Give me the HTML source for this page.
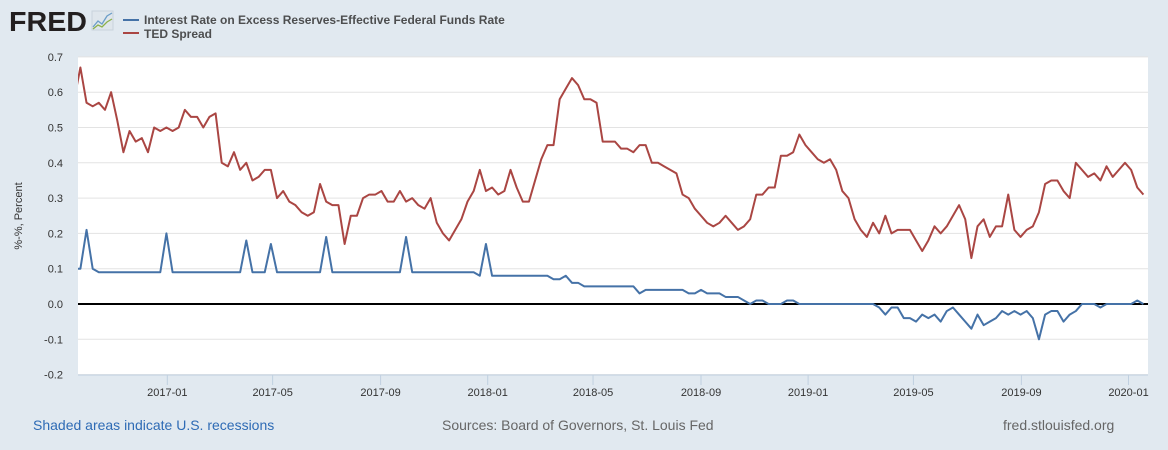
<!DOCTYPE html>
<html><head><meta charset="utf-8">
<style>
body{margin:0;background:#e1e9f0;font-family:"Liberation Sans",sans-serif;}
#wrap{position:relative;width:1168px;height:450px;overflow:hidden;background:#e1e9f0;}
</style></head>
<body>
<div id="wrap">
<svg id="chart" width="1168" height="450" xmlns="http://www.w3.org/2000/svg">
  <text x="9" y="31" font-family="Liberation Sans, sans-serif" font-weight="bold" font-size="28" fill="#231f20" textLength="78" lengthAdjust="spacingAndGlyphs">FRED</text>
  <g>
    <rect x="92" y="11" width="21" height="19" fill="#dfe6ec" stroke="#c9d3dc"/>
    <polyline points="93,27 98,21 102,24 107,16 112,13" fill="none" stroke="#6c9ec8" stroke-width="1.3"/>
    <polyline points="93,29 98,25 102,27 107,22 112,19" fill="none" stroke="#8cb04a" stroke-width="1.3"/>
  </g>
  <g>
    <g>
      <line x1="123" y1="20" x2="139" y2="20" stroke="#4572a7" stroke-width="2"/>
      <text x="144" y="24" font-size="12" fill="#333" font-weight="bold" fill-opacity="0.85">Interest Rate on Excess Reserves-Effective Federal Funds Rate</text>
    </g>
    <g>
      <line x1="123" y1="33" x2="139" y2="33" stroke="#aa4643" stroke-width="2"/>
      <text x="144" y="38" font-size="12" fill="#333" font-weight="bold" fill-opacity="0.85">TED Spread</text>
    </g>
  </g>
  <rect x="78" y="57" width="1070" height="318" fill="#ffffff"/>
  <g id="grid"></g>
  <g id="yticks"></g>
  <g id="xticks"></g>
  <text transform="translate(22,216) rotate(-90)" text-anchor="middle" font-size="11" fill="#333">%-%, Percent</text>
  <defs><clipPath id="clip"><rect x="78" y="57" width="1070" height="318"/></clipPath></defs>
  <g id="series" clip-path="url(#clip)"></g>
  <text x="33" y="430" font-size="14" fill="#2e6bb5">Shaded areas indicate U.S. recessions</text>
  <text x="442" y="430" font-size="14" fill="#666">Sources: Board of Governors, St. Louis Fed</text>
  <text x="1003" y="430" font-size="14" fill="#666">fred.stlouisfed.org</text>
</svg>
</div>
<script>
const startDate = "2016-09-17";
const redValues = [0.58,
0.67,0.57,0.56,0.57,0.55,0.60,0.52,0.43,0.49,0.46,0.47,0.43,0.50,0.49,0.50,0.49,0.50,0.55,0.53,0.53,0.50,0.53,0.54,0.40,0.39,0.43,0.38,0.40,0.35,0.36,0.38,0.38,0.30,0.32,0.29,0.28,0.26,0.25,0.26,0.34,0.29,0.28,0.28,0.17,0.25,0.25,0.30,0.31,0.31,0.32,0.29,0.29,0.32,0.29,0.30,0.28,0.27,0.30,0.23,0.20,0.18,
0.21,0.24,0.29,0.32,0.38,0.32,0.33,0.31,0.32,0.38,0.33,0.29,0.29,0.35,0.41,0.45,0.45,0.58,0.61,0.64,0.62,0.58,0.58,0.57,0.46,0.46,0.46,0.44,0.44,0.43,0.45,0.45,0.40,0.40,0.39,0.38,0.37,0.31,0.30,0.27,0.25,0.23,0.22,0.23,0.25,0.23,0.21,0.22,0.24,0.31,0.31,0.33,0.33,0.42,0.42,0.43,0.48,0.45,0.43,0.41,
0.40,0.41,0.38,0.32,0.30,0.24,0.21,0.19,0.23,0.20,0.25,0.20,0.21,0.21,0.21,0.18,0.15,0.18,0.22,0.20,0.22,0.25,0.28,0.24,0.13,0.22,0.24,0.19,0.22,0.22,0.31,0.21,0.19,0.21,0.22,0.26,0.34,0.35,0.35,0.32,0.30,0.40,0.38,0.36,0.37,0.35,0.39,0.36,0.38,0.40,0.38,0.33,0.31];
const blueValues = [0.10,
0.10,0.21,0.10,0.09,0.09,0.09,0.09,0.09,0.09,0.09,0.09,0.09,0.09,0.09,0.20,
0.09,0.09,0.09,0.09,0.09,0.09,0.09,0.09,0.09,0.09,0.09,0.09,0.18,0.09,0.09,0.09,0.17,
0.09,0.09,0.09,0.09,0.09,0.09,0.09,0.09,0.19,
0.09,0.09,0.09,0.09,0.09,0.09,0.09,0.09,0.09,0.09,0.09,0.09,0.19,
0.09,0.09,0.09,0.09,0.09,0.09,0.09,0.09,0.09,0.09,0.09,0.08,0.17,
0.08,0.08,0.08,0.08,0.08,0.08,0.08,0.08,0.08,0.08,0.07,0.07,0.08,0.06,0.06,
0.05,0.05,0.05,0.05,0.05,0.05,0.05,0.05,0.05,0.03,0.04,0.04,0.04,0.04,0.04,0.04,0.04,
0.03,0.03,0.04,0.03,0.03,0.03,0.02,0.02,0.02,0.01,0.00,0.01,0.01,0.00,0.00,0.00,0.01,0.01,
0.00,0.00,0.00,0.00,0.00,0.00,0.00,0.00,0.00,0.00,0.00,0.00,0.00,
-0.01,-0.03,-0.01,-0.01,-0.04,-0.04,-0.05,-0.03,-0.04,-0.03,-0.05,-0.02,-0.01,-0.03,-0.05,-0.07,-0.03,-0.06,-0.05,-0.04,-0.02,-0.03,-0.02,-0.03,-0.02,-0.04,-0.10,-0.03,-0.02,-0.02,-0.05,-0.03,-0.02,
0.00,0.00,0.00,-0.01,0.00,0.00,0.00,0.00,0.00,0.01,0.00];
const yTicks = [-0.2,-0.1,0.0,0.1,0.2,0.3,0.4,0.5,0.6,0.7];
const xTickLabels = ["2017-01","2017-05","2017-09","2018-01","2018-05","2018-09","2019-01","2019-05","2019-09","2020-01"];

const NS = "http://www.w3.org/2000/svg";
const DAY = 86400000;
const x0Date = Date.parse("2017-01-01"), x1Date = Date.parse("2018-01-01");
const pxPerDay = (487.7 - 167.3) / ((x1Date - x0Date) / DAY);
function xScale(ms){ return 167.3 + (ms - x0Date) / DAY * pxPerDay; }
function yScale(v){ return 304 - v * 353; }
function mk(tag, attrs){ const e = document.createElementNS(NS, tag); for (const k in attrs) e.setAttribute(k, attrs[k]); return e; }

const grid = document.getElementById('grid'), yt = document.getElementById('yticks'), xt = document.getElementById('xticks'), series = document.getElementById('series');
yTicks.forEach(v => {
  const y = yScale(v);
  if (v !== 0) {
    const l = mk('line', {x1:78, x2:1148, y1:y, y2:y, stroke:'#e3e3e3', 'stroke-width':1});
    
    
    grid.appendChild(l);
  }
  const t = mk('text', {x:63, y:y+4, 'text-anchor':'end', 'font-size':11, fill:'#333'});
  t.textContent = v.toFixed(1);
  
  
  yt.appendChild(t);
});
const axisLine = mk('line', {x1:78, x2:1148, y1:375, y2:375, stroke:'#c0d0e0', 'stroke-width':1});


xt.appendChild(axisLine);
xTickLabels.forEach(lbl => {
  const x = xScale(Date.parse(lbl + "-01"));
  const tk = mk('line', {x1:x, x2:x, y1:375, y2:385, stroke:'#c0d0e0', 'stroke-width':1});
  
  
  xt.appendChild(tk);
  const t = mk('text', {x:x, y:396, 'text-anchor':'middle', 'font-size':11, fill:'#333'});
  t.textContent = lbl;
  
  
  xt.appendChild(t);
});
const s0 = Date.parse(startDate);
function pts(vals){ return vals.map((v,i) => xScale(s0 + i*7*DAY).toFixed(2) + ',' + yScale(v).toFixed(2)).join(' '); }
const red = mk('polyline', {points: pts(redValues), fill:'none', stroke:'#aa4643', 'stroke-width':2, 'stroke-linejoin':'round'});


series.appendChild(red);
const blue = mk('polyline', {points: pts(blueValues), fill:'none', stroke:'#4572a7', 'stroke-width':2, 'stroke-linejoin':'round'});


series.appendChild(blue);
const zero = mk('line', {x1:78, x2:1148, y1:yScale(0), y2:yScale(0), stroke:'#000', 'stroke-width':2});


series.insertBefore(zero, blue);
</script>
</body></html>
